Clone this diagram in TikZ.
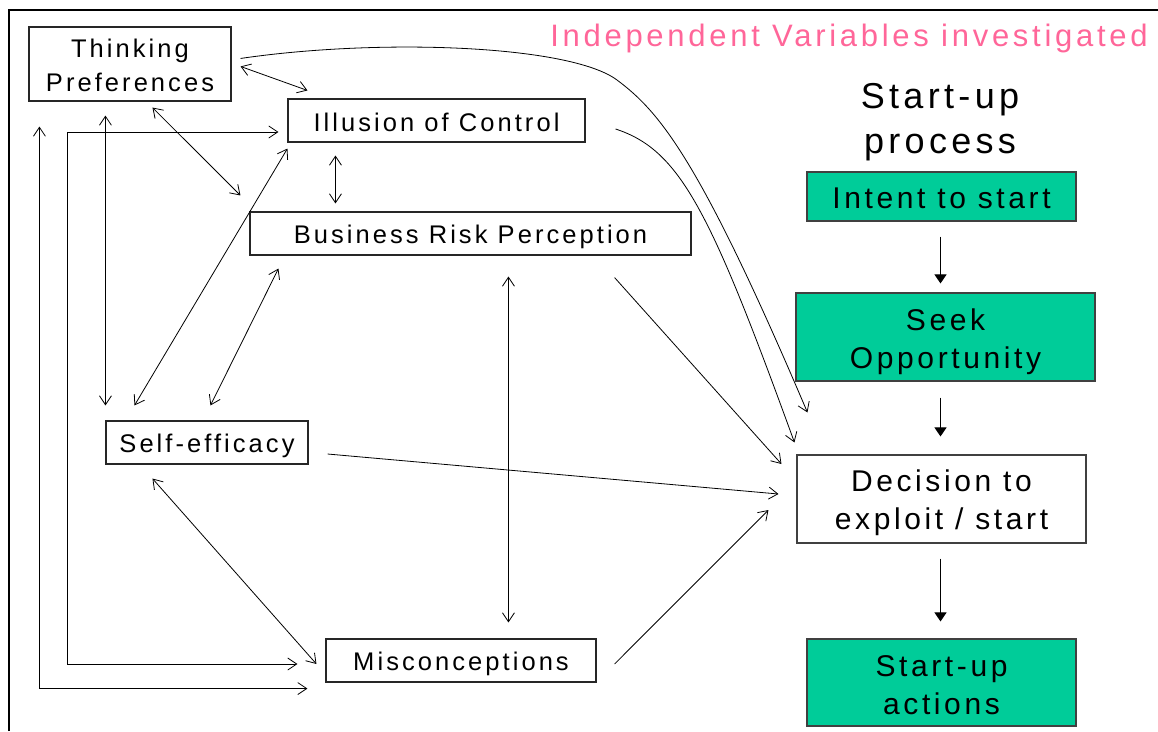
\documentclass[tikz,border=0pt]{standalone}
\usepackage{fontspec}
\setmainfont{Liberation Sans}
\newfontfamily\spacedfont[LetterSpace=12]{Liberation Sans}
\usetikzlibrary{arrows.meta,calc}
\definecolor{procgreen}{RGB}{0,204,153}
\definecolor{titlepink}{RGB}{255,102,153}
% centred lines of box text, set a little below the box centre
\newcommand\boxtext[2][3pt]{\raisebox{-#1}[\height][\depth]{\begin{tabular}{@{}c@{}}#2\end{tabular}}}

\begin{document}
\begin{tikzpicture}[x=1pt,y=-1pt,
  varbox/.style={draw=black!85,line width=1.1pt,fill=white,inner sep=0pt,
    font=\spacedfont\fontsize{25.5}{34}\selectfont},
  procbox/.style={draw=black!75,line width=1.1pt,fill=procgreen,inner sep=0pt,
    font=\spacedfont\fontsize{30}{38}\selectfont},
  decbox/.style={procbox,fill=white},
  link/.style={line width=0.8pt,-{Straight Barb[length=9pt,width=12pt]}},
  link2/.style={line width=0.8pt,{Straight Barb[length=9pt,width=12pt]}-{Straight Barb[length=9pt,width=12pt]}},
  flow/.style={line width=1pt,-{Triangle[length=9pt,width=12pt]}}
]
\useasboundingbox (0,0) rectangle (1158,731);

% frame
\draw[line width=2.5pt] (9,731) -- (9,10) -- (1158,10);

% heading texts
\node[text=titlepink,font=\spacedfont\fontsize{31}{36}\selectfont,inner sep=0pt] (title) at (849,38) {Independent Variables investigated};
\node[font=\spacedfont\fontsize{36}{45}\selectfont,align=center,inner sep=0pt] (proc) at (940,122) {Start-up\\process};

% independent variables
\node[varbox,minimum width=202pt,minimum height=74pt] (tp) at (130,64) {\boxtext[4pt]{Thinking\\Preferences}};
\node[varbox,minimum width=297pt,minimum height=43pt] (ic) at (436.5,120.5) {\boxtext[4.5pt]{Illusion of Control}};
\node[varbox,minimum width=441pt,minimum height=43pt] (br) at (470.5,233.5) {\boxtext[3.5pt]{Business Risk Perception}};
\node[varbox,minimum width=202pt,minimum height=43pt] (se) at (207,442.5) {\boxtext{Self-efficacy}};
\node[varbox,minimum width=270pt,minimum height=43pt] (mc) at (461,660.5) {\boxtext{Misconceptions}};

% start-up process
\node[procbox,minimum width=269pt,minimum height=49pt] (it) at (941.5,196.5) {\boxtext[4pt]{Intent to start}};
\node[procbox,minimum width=299pt,minimum height=88pt] (so) at (945.5,337) {\boxtext[4.5pt]{Seek\\Opportunity}};
\node[decbox,minimum width=289pt,minimum height=88pt] (dc) at (941.5,499) {\boxtext[4pt]{Decision to\\exploit / start}};
\node[procbox,minimum width=269pt,minimum height=87pt] (sa) at (941.5,682.5) {\boxtext[5pt]{Start-up\\actions}};

% process flow
\draw[flow] ($(it.south)+(-1,15)$) -- ($(so.north -| it.south)+(-1,-9)$);
\draw[flow] ($(so.south -| it.south)+(-1,16)$) -- ($(dc.north -| it.south)+(-1,-18)$);
\draw[flow] ($(dc.south)+(-1,15)$) -- ($(sa.north)+(-1,-17)$);

% mutual links between the variables
\draw[link2] ($(tp.north east)+(9,40)$) -- ($(ic.north west)+(20,-8)$);
\draw[link2] ($(tp.south west)+(124,6)$) -- ($(br.north west)+(-9,-16)$);
\draw[link2] ($(ic.south west)+(48,13)$) -- ($(br.north west)+(86,-8)$);
\draw[link2] ($(br.south west)+(259,21)$) -- ($(mc.north west)+(183,-16)$);
\draw[link2] ($(br.south west)+(29,13)$) -- ($(se.north west)+(105,-15)$);
\draw[link2] ($(ic.south west)+(0,6)$) -- ($(se.north west)+(29,-15)$);
\draw[link2] ($(tp.south west)+(77,14)$) -- ($(se.north west)+(0,-15)$);
\draw[link2] ($(se.south west)+(47,14)$) -- ($(mc.west)+(-9,3.5)$);
\draw[link2] ($(tp.south west)+(11,25)$) |- ($(mc.south west)+(-18,6)$);
\draw[link2] ($(ic.west)+(-9,11.5)$) -- ++(-211,0) |- ($(mc.west)+(-28,3.5)$);

% influences on the decision
\draw[link] ($(tp.north east)+(9,32)$) .. controls (380,38) and (570,45) .. (617,80)
  .. controls (660,112) and (700,160) .. ($(dc.north west)+(11,-42)$);
\draw[link] ($(ic.east)+(30,8.5)$) .. controls (680,150) and (710,210) .. ($(dc.north west)+(-2,-12)$);
\draw[link] ($(br.south east)+(-77,22)$) -- ($(dc.west)+(-15,-35)$);
\draw[link] ($(se.east)+(19,11.5)$) -- ($(dc.west)+(-18,-5)$);
\draw[link] ($(mc.east)+(18,3.5)$) -- ($(dc.west)+(-28,11)$);
\end{tikzpicture}
\end{document}
